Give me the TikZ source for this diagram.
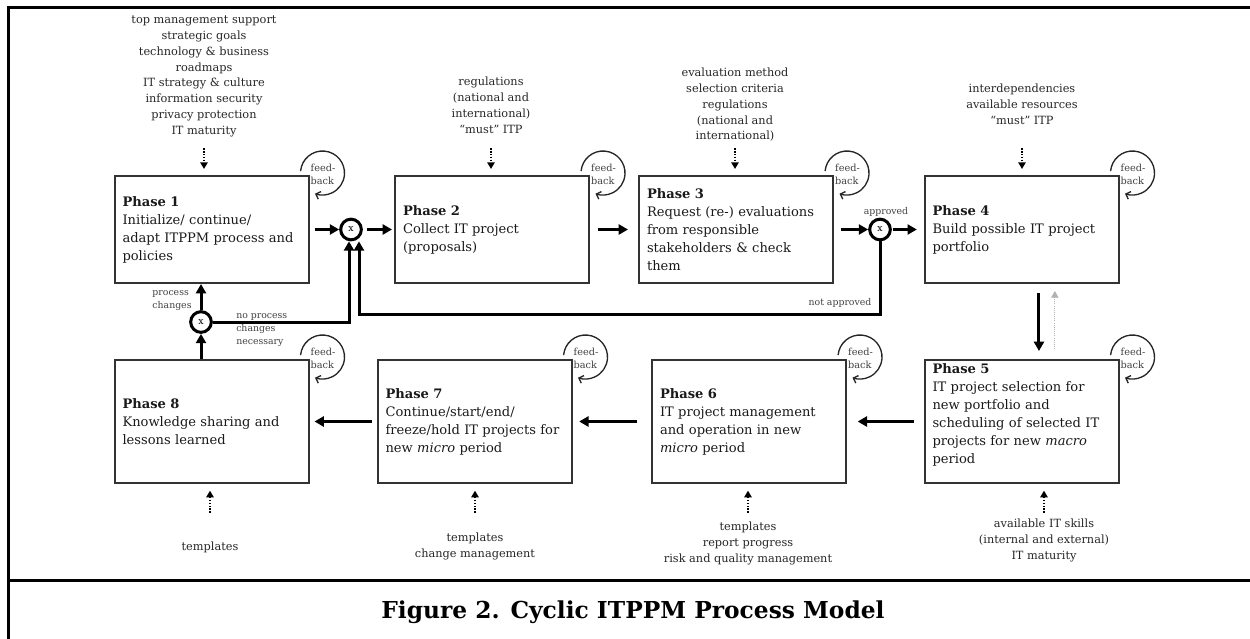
\documentclass[tikz,border=0pt]{standalone}
\usepackage{fontspec}
\setmainfont{DejaVu Serif}
\usetikzlibrary{arrows.meta}
\tikzstyle{phase}=[rectangle, draw=black!80, line width=1.5pt, text width=133.5pt, inner xsep=6pt, inner ysep=0pt, align=left, minimum height=80.25pt, font=\fontsize{9.8}{13.5}\selectfont, text=black!90]
\tikzstyle{lowphase}=[phase, minimum height=92.25pt]
\tikzstyle{gate}=[circle, draw, line width=2.25pt, minimum size=15.5pt, inner sep=0, font=\fontsize{7}{8}\selectfont]
\tikzstyle{flow}=[line width=2.25pt, -{Triangle[length=7pt,width=7.5pt]}]
\tikzstyle{inarrow}=[line width=1.2pt, densely dotted, -{Triangle[length=5pt,width=5.5pt]}]
\tikzstyle{backarrow}=[line width=0.6pt, gray!60, densely dotted, -{Triangle[length=5pt,width=5.5pt]}]
\tikzstyle{fb}=[line width=1pt, black!85, -{Straight Barb[length=3pt,width=6pt]}]
\tikzstyle{fbtext}=[align=left, inner sep=0, font=\fontsize{7.3}{9.75}\selectfont, text=black!75]
\tikzstyle{intext}=[align=center, inner sep=0, anchor=north, font=\fontsize{8.5}{11.8}\selectfont, text=black!85]
\tikzstyle{lbl}=[inner sep=0, font=\fontsize{7}{9.75}\selectfont, text=black!75]
\tikzstyle{figrule}=[line width=2.25pt]
\begin{document}
\begin{tikzpicture}[x=0.75pt,y=0.75pt]
\useasboundingbox (0,0) rectangle (1250,-639);
\draw[figrule] (8,-660) -- (8,-7) -- (1265,-7);
\draw[figrule] (8,-580) -- (1265,-580);

\node[phase] (p1) at (211.5,-229.5) {\textbf{Phase 1}\\Initialize/ continue/\\adapt ITPPM process and\\policies};
\node[phase] (p2) at (492,-229.5) {\textbf{Phase 2}\\Collect IT project\\(proposals)};
\node[phase] (p3) at (736,-229.5) {\textbf{Phase 3}\\Request (re-) evaluations\\from responsible\\stakeholders \& check\\them};
\node[phase] (p4) at (1021.5,-229.5) {\textbf{Phase 4}\\Build possible IT project\\portfolio};
\node[lowphase] (p5) at (1021.5,-421.5) {\textbf{Phase 5}\\IT project selection for\\new portfolio and\\scheduling of selected IT\\projects for new \textit{macro}\\period\par\vspace*{10pt}};
\node[lowphase] (p6) at (749,-421.5) {\textbf{Phase 6}\\IT project management\\and operation in new\\\textit{micro} period};
\node[lowphase] (p7) at (474.5,-421.5) {\textbf{Phase 7}\\Continue/start/end/\\freeze/hold IT projects for\\new \textit{micro} period};
\node[lowphase] (p8) at (211.5,-421.5) {\textbf{Phase 8}\\Knowledge sharing and\\lessons learned};

\node[gate] (g1) at (351,-229.5) {x};
\node[gate] (g2) at (880,-229.5) {x};
\node[gate] (g3) at (201,-322) {x};

\node[intext] (in1) at (204,-16) {top management support\\strategic goals\\technology \& business\\roadmaps\\IT strategy \& culture\\information security\\privacy protection\\IT maturity};
\node[intext] (in2) at (491,-77) {regulations\\(national and\\international)\\“must” ITP};
\node[intext] (in3) at (735,-68) {evaluation method\\selection criteria\\regulations\\(national and\\international)};
\node[intext] (in4) at (1022,-84) {interdependencies\\available resources\\“must” ITP};
\node[intext] (in5) at (1044,-519) {available IT skills\\(internal and external)\\IT maturity};
\node[intext] (in6) at (748,-522) {templates\\report progress\\risk and quality management};
\node[intext] (in7) at (475,-533) {templates\\change management};
\node[intext] (in8) at (210,-542) {templates};

\foreach \i in {1,2,3,4}{
	\draw[inarrow, shorten >=4.5pt] (in\i.south |- 0,-148) -- (in\i |- p\i.north);}
\foreach \i in {5,6,7,8}{
	\draw[inarrow, shorten >=5pt] (in\i |- 0,-513) -- (in\i |- p\i.south);}

\foreach \p in {p1,p2,p3,p4,p5,p6,p7,p8}{
	\draw[fb] ([shift={(-8.9,3.9)}]\p.north east) arc[start angle=175, end angle=-110, radius=16.5pt];
	\node[fbtext] (fb-\p) at ([shift={(13.5,1)}]\p.north east) {feed-\\back};}

\draw[flow, shorten <=4pt] (p1.east) -- (g1.west);
\draw[flow, shorten <=3pt, shorten >=1.5pt] (g1.east) -- (p2.west);
\draw[flow, shorten <=6pt, shorten >=7.5pt] (p2.east) -- (p3.west);
\draw[flow, shorten <=5pt] (p3.east) -- (g2.west);
\draw[flow, shorten <=1pt, shorten >=5pt] (g2.east) -- (p4.west);
\draw[flow] ([xshift=13.1pt,yshift=-6.75pt]p4.south) -- ([xshift=13.1pt,yshift=6pt]p5.north);
\draw[backarrow] ([xshift=25pt,yshift=7.5pt]p5.north) -- ([xshift=25pt,yshift=-5.25pt]p4.south);
\draw[flow, shorten <=7.5pt, shorten >=8pt] (p5.west) -- (p6.east);
\draw[flow, shorten <=10.5pt, shorten >=5pt] (p6.west) -- (p7.east);
\draw[flow, shorten <=3.75pt, shorten >=3.75pt] (p7.west) -- (p8.east);
\draw[flow] (g3 |- p8.north) -- (g3.south);
\draw[flow] (g3.north) -- (g3.north |- p1.south);

\coordinate (nabend) at (359,-314);
\draw[flow] (g2.south) |- (nabend) -- (nabend |- g1.south);
\draw[flow] (g3.east) -| ([xshift=-1.5pt]g1.south);

\node[lbl] (approved) at (886,-212) {approved};
\node[lbl] (notapproved) at (840,-303) {not approved};
\node[lbl, align=left] (changes) at (172,-301) {process\\changes};
\node[lbl, align=left, anchor=north west] (nochanges) at (236,-313) {no process\\changes\\necessary};

\node (caption) at (633,-612) {\fontsize{17.5}{20}\selectfont\textbf{Figure 2. Cyclic ITPPM Process Model}};
\end{tikzpicture}
\end{document}
